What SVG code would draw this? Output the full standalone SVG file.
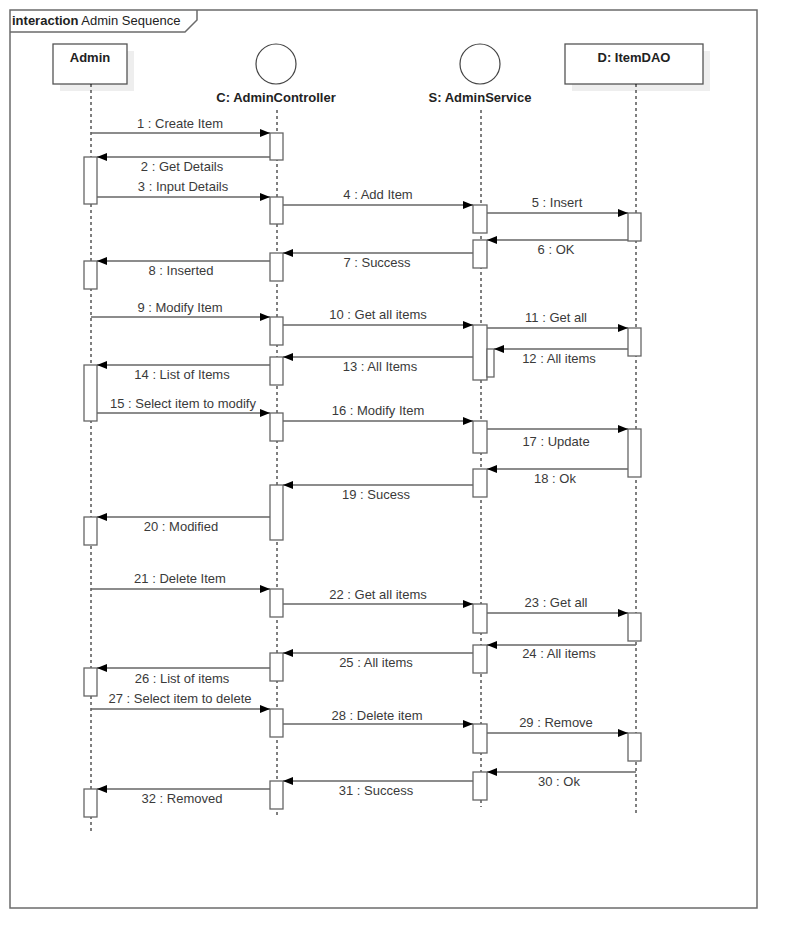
<svg xmlns="http://www.w3.org/2000/svg" width="797" height="949" viewBox="0 0 797 949">
<defs>
<marker id="ah" markerUnits="userSpaceOnUse" markerWidth="11" markerHeight="9" refX="10" refY="4" orient="auto">
<path d="M0,0 L10,4 L0,8 z" fill="#000"/>
</marker>
<style>
.frame{fill:none;stroke:#6b6b6b;stroke-width:1.5}
.box{fill:#fff;stroke:#555;stroke-width:1.3}
.shadow{fill:#eeeeee;stroke:none}
.head{font-family:"Liberation Sans",Arial,sans-serif;font-size:13px;font-weight:bold;fill:#222;text-anchor:middle}
.life{stroke:#000;stroke-width:1;stroke-dasharray:3,3;fill:none}
.act{fill:#fff;stroke:#666;stroke-width:1.3}
.msg{stroke:#666;stroke-width:1.4;fill:none;marker-end:url(#ah)}
.lbl{font-family:"Liberation Sans",Arial,sans-serif;font-size:13px;fill:#3a3a3a;text-anchor:middle}
.title{font-family:"Liberation Sans",Arial,sans-serif;font-size:13px;fill:#222}
</style>
</defs>
<rect width="797" height="949" fill="#fff"/>
<g id="frame">
<rect class="frame" x="10" y="10" width="747" height="898"/>
<path class="frame" d="M10,32 H185 L197,20 V10"/>
<text class="title" x="12" y="25"><tspan font-weight="bold">interaction</tspan> Admin Sequence</text>
</g>
<g id="admin">
<rect class="shadow" x="60" y="51" width="74" height="40"/>
<rect class="box" x="53" y="44" width="74" height="40"/>
<text class="head" x="90" y="62">Admin</text>
<line class="life" x1="91" y1="84" x2="91" y2="831"/>
<rect class="act" x="84" y="157" width="13" height="47"/>
<rect class="act" x="84" y="261" width="13" height="28"/>
<rect class="act" x="84" y="365" width="13" height="56"/>
<rect class="act" x="84" y="517" width="13" height="28"/>
<rect class="act" x="84" y="668" width="13" height="28"/>
<rect class="act" x="84" y="789" width="13" height="28"/>
</g>
<g id="controller">
<circle cx="276" cy="64" r="20" fill="#fff" stroke="#444" stroke-width="1.2"/>
<text class="head" x="276" y="102">C: AdminController</text>
<line class="life" x1="277" y1="110" x2="277" y2="815"/>
<rect class="act" x="270" y="133" width="13" height="27"/>
<rect class="act" x="270" y="197" width="13" height="27"/>
<rect class="act" x="270" y="253" width="13" height="28"/>
<rect class="act" x="270" y="317" width="13" height="28"/>
<rect class="act" x="270" y="357" width="13" height="28"/>
<rect class="act" x="270" y="413" width="13" height="28"/>
<rect class="act" x="270" y="485" width="13" height="55"/>
<rect class="act" x="270" y="589" width="13" height="28"/>
<rect class="act" x="270" y="653" width="13" height="28"/>
<rect class="act" x="270" y="709" width="13" height="28"/>
<rect class="act" x="270" y="781" width="13" height="28"/>
</g>
<g id="service">
<circle cx="480" cy="64" r="20" fill="#fff" stroke="#444" stroke-width="1.2"/>
<text class="head" x="480" y="102">S: AdminService</text>
<line class="life" x1="481" y1="110" x2="481" y2="807"/>
<rect class="act" x="473" y="205" width="14" height="28"/>
<rect class="act" x="473" y="240" width="14" height="28"/>
<rect class="act" x="473" y="325" width="14" height="55"/>
<rect class="act" x="487" y="349" width="7" height="28"/>
<rect class="act" x="473" y="421" width="14" height="32"/>
<rect class="act" x="473" y="469" width="14" height="28"/>
<rect class="act" x="473" y="604" width="14" height="29"/>
<rect class="act" x="473" y="645" width="14" height="28"/>
<rect class="act" x="473" y="724" width="14" height="29"/>
<rect class="act" x="473" y="772" width="14" height="28"/>
</g>
<g id="itemdao">
<rect class="shadow" x="572" y="51" width="138" height="40"/>
<rect class="box" x="565" y="44" width="138" height="40"/>
<text class="head" x="634" y="62">D: ItemDAO</text>
<line class="life" x1="636" y1="84" x2="636" y2="814"/>
<rect class="act" x="628" y="213" width="13" height="28"/>
<rect class="act" x="628" y="328" width="13" height="28"/>
<rect class="act" x="628" y="429" width="13" height="48"/>
<rect class="act" x="628" y="613" width="13" height="28"/>
<rect class="act" x="628" y="733" width="13" height="28"/>
</g>
<g id="connectors">
<line class="msg" x1="91" y1="133" x2="270" y2="133"/>
<text class="lbl" x="180" y="128">1 : Create Item</text>
<line class="msg" x1="270" y1="157" x2="97" y2="157"/>
<text class="lbl" x="182" y="171">2 : Get Details</text>
<line class="msg" x1="97" y1="197" x2="270" y2="197"/>
<text class="lbl" x="183" y="191">3 : Input Details</text>
<line class="msg" x1="283" y1="205" x2="473" y2="205"/>
<text class="lbl" x="378" y="199">4 : Add Item</text>
<line class="msg" x1="487" y1="213" x2="628" y2="213"/>
<text class="lbl" x="557" y="207">5 : Insert</text>
<line class="msg" x1="628" y1="240" x2="487" y2="240"/>
<text class="lbl" x="556" y="254">6 : OK</text>
<line class="msg" x1="473" y1="253" x2="283" y2="253"/>
<text class="lbl" x="377" y="267">7 : Success</text>
<line class="msg" x1="270" y1="261" x2="97" y2="261"/>
<text class="lbl" x="181" y="275">8 : Inserted</text>
<line class="msg" x1="91" y1="317" x2="270" y2="317"/>
<text class="lbl" x="180" y="312">9 : Modify Item</text>
<line class="msg" x1="283" y1="325" x2="473" y2="325"/>
<text class="lbl" x="378" y="319">10 : Get all items</text>
<line class="msg" x1="487" y1="328" x2="628" y2="328"/>
<text class="lbl" x="556" y="322">11 : Get all</text>
<line class="msg" x1="628" y1="349" x2="494" y2="349"/>
<text class="lbl" x="559" y="363">12 : All items</text>
<line class="msg" x1="473" y1="357" x2="283" y2="357"/>
<text class="lbl" x="380" y="371">13 : All Items</text>
<line class="msg" x1="270" y1="365" x2="97" y2="365"/>
<text class="lbl" x="182" y="379">14 : List of Items</text>
<line class="msg" x1="97" y1="413" x2="270" y2="413"/>
<text class="lbl" x="183" y="408">15 : Select item to modify</text>
<line class="msg" x1="283" y1="421" x2="473" y2="421"/>
<text class="lbl" x="378" y="415">16 : Modify Item</text>
<line class="msg" x1="487" y1="429" x2="628" y2="429"/>
<text class="lbl" x="556" y="446">17 : Update</text>
<line class="msg" x1="628" y1="469" x2="487" y2="469"/>
<text class="lbl" x="555" y="483">18 : Ok</text>
<line class="msg" x1="473" y1="485" x2="283" y2="485"/>
<text class="lbl" x="376" y="499">19 : Sucess</text>
<line class="msg" x1="270" y1="517" x2="97" y2="517"/>
<text class="lbl" x="181" y="531">20 : Modified</text>
<line class="msg" x1="91" y1="589" x2="270" y2="589"/>
<text class="lbl" x="180" y="583">21 : Delete Item</text>
<line class="msg" x1="283" y1="604" x2="473" y2="604"/>
<text class="lbl" x="378" y="599">22 : Get all items</text>
<line class="msg" x1="487" y1="613" x2="628" y2="613"/>
<text class="lbl" x="556" y="607">23 : Get all</text>
<line class="msg" x1="636" y1="645" x2="487" y2="645"/>
<text class="lbl" x="559" y="658">24 : All items</text>
<line class="msg" x1="473" y1="653" x2="283" y2="653"/>
<text class="lbl" x="376" y="667">25 : All items</text>
<line class="msg" x1="270" y1="668" x2="97" y2="668"/>
<text class="lbl" x="182" y="683">26 : List of items</text>
<line class="msg" x1="91" y1="709" x2="270" y2="709"/>
<text class="lbl" x="180" y="703">27 : Select item to delete</text>
<line class="msg" x1="283" y1="724" x2="473" y2="724"/>
<text class="lbl" x="377" y="720">28 : Delete item</text>
<line class="msg" x1="487" y1="733" x2="628" y2="733"/>
<text class="lbl" x="556" y="727">29 : Remove</text>
<line class="msg" x1="636" y1="772" x2="487" y2="772"/>
<text class="lbl" x="559" y="786">30 : Ok</text>
<line class="msg" x1="473" y1="781" x2="283" y2="781"/>
<text class="lbl" x="376" y="795">31 : Success</text>
<line class="msg" x1="270" y1="789" x2="97" y2="789"/>
<text class="lbl" x="182" y="803">32 : Removed</text>
</g>
</svg>
